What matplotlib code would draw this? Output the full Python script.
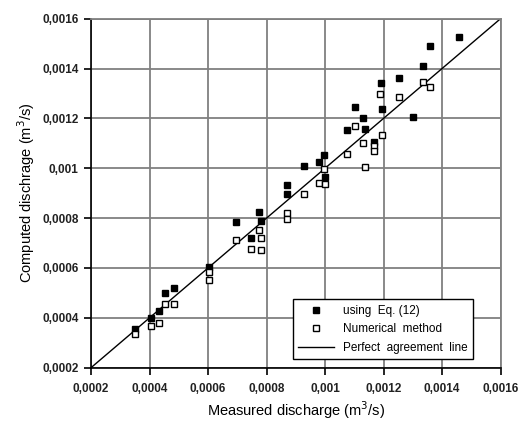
import matplotlib
matplotlib.use("Agg")
import matplotlib.pyplot as plt
from matplotlib.ticker import FuncFormatter, MultipleLocator

plt.rcParams['font.family'] = ['Liberation Sans', 'DejaVu Sans']

# Measured vs computed discharge (m3/s)
eq12_measured = [0.00035, 0.000404, 0.000434, 0.000453, 0.000484, 0.000603,
                 0.000696, 0.000746, 0.000775, 0.00078, 0.000871, 0.000871,
                 0.000928, 0.00098, 0.000997, 0.001, 0.001076, 0.001103,
                 0.001131, 0.001137, 0.001169, 0.00119, 0.001194, 0.001252,
                 0.0013, 0.001334, 0.001359, 0.001458]
eq12_computed = [0.000354, 0.000398, 0.000429, 0.000499, 0.000519, 0.000605,
                 0.000786, 0.000719, 0.000826, 0.000789, 0.000932, 0.000896,
                 0.001009, 0.001026, 0.001054, 0.000966, 0.001154, 0.001246,
                 0.0012, 0.001156, 0.001104, 0.001343, 0.001238, 0.001363,
                 0.001205, 0.00141, 0.00149, 0.001528]

num_measured = [0.00035, 0.000404, 0.000434, 0.000454, 0.000485, 0.000603,
                0.000603, 0.000696, 0.000746, 0.000775, 0.00078, 0.00078,
                0.000871, 0.000871, 0.000928, 0.00098, 0.000997, 0.000999,
                0.001076, 0.001103, 0.001131, 0.001137, 0.001169, 0.001169,
                0.001188, 0.001194, 0.001252, 0.001334, 0.001359]
num_computed = [0.000337, 0.000366, 0.00038, 0.000454, 0.000454, 0.000584,
                0.000552, 0.000712, 0.000676, 0.000752, 0.00072, 0.000672,
                0.00082, 0.000798, 0.000896, 0.00094, 0.000998, 0.000936,
                0.001057, 0.00117, 0.001103, 0.001006, 0.001088, 0.00107,
                0.001297, 0.001134, 0.001287, 0.001347, 0.001327]

perfect_line = [0.0002, 0.0016]


def comma_fmt(v, pos):
    return f"{v:g}".replace('.', ',')


fig = plt.figure(figsize=(5.21, 4.21), dpi=100)
ax = fig.add_axes([0.1747, 0.1266, 0.786, 0.8290])

ax.plot(eq12_measured, eq12_computed, 's', color='black', markersize=5,
        label='using  Eq. (12)', zorder=3)
ax.plot(num_measured, num_computed, 's', markerfacecolor='white',
        markeredgecolor='black', markeredgewidth=1, markersize=5,
        label='Numerical  method', zorder=3)
ax.plot(perfect_line, perfect_line, color='black', linewidth=1,
        label='Perfect  agreement  line', zorder=2)

ax.set_xlim(0.0002, 0.0016)
ax.set_ylim(0.0002, 0.0016)
ax.xaxis.set_major_locator(MultipleLocator(0.0002))
ax.yaxis.set_major_locator(MultipleLocator(0.0002))
ax.xaxis.set_major_formatter(FuncFormatter(comma_fmt))
ax.yaxis.set_major_formatter(FuncFormatter(comma_fmt))

ax.grid(True, color='#808080', linewidth=1.3)
ax.set_axisbelow(True)
for side in ['top', 'right']:
    ax.spines[side].set_color('#808080')
    ax.spines[side].set_linewidth(1.3)
for side in ['left', 'bottom']:
    ax.spines[side].set_color('black')
    ax.spines[side].set_linewidth(1.2)

ax.tick_params(direction='out', length=5, width=1.2, labelsize=8.5,
               colors='black')
ax.tick_params(axis='x', pad=6)
ax.tick_params(axis='y', pad=4)
for lbl in ax.get_xticklabels() + ax.get_yticklabels():
    lbl.set_fontweight('bold')
    lbl.set_color('#222222')

ax.set_xlabel('Measured discharge (m$^3$/s)', fontsize=10.5, labelpad=3)
ax.set_ylabel('Computed dischrage (m$^3$/s)', fontsize=10.5, labelpad=4)

leg = ax.legend(loc='lower right', bbox_to_anchor=(0.933, 0.025), fontsize=8.5,
                frameon=True, fancybox=False, edgecolor='black',
                framealpha=1, handlelength=3.0, borderpad=0.45,
                labelspacing=0.55, borderaxespad=0)
leg.get_frame().set_linewidth(1.0)

fig.savefig('out.png', dpi=100)
